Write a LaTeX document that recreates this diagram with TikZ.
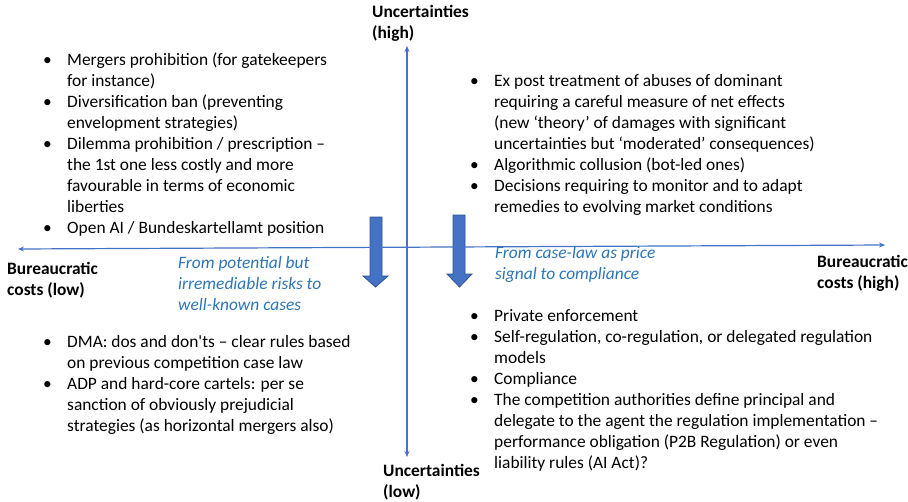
\documentclass[tikz,border=0pt]{standalone}
\usepackage{fontspec}
\setmainfont{Carlito}
\usepackage{xcolor}
\usetikzlibrary{positioning, arrows.meta}
\definecolor{axisblue}{HTML}{4472C4}
\definecolor{arrowedge}{HTML}{2F528F}
\definecolor{noteblue}{HTML}{2E75B6}
\newcommand{\bul}{\llap{\textbullet\hspace{15.5pt}}}

\begin{document}
\begin{tikzpicture}[x=1pt, y=-1pt,
        txt/.style={anchor=base west, inner sep=0pt, align=left, font=\fontsize{17.4}{21}\selectfont},
        head/.style={txt, font=\fontsize{17.4}{20.5}\selectfont\bfseries},
        note/.style={txt, text=noteblue, font=\fontsize{17.4}{21}\selectfont\itshape},
        axis/.style={draw=axisblue, line width=1.2pt, {Stealth[length=6pt,width=5pt]}-{Stealth[length=6pt,width=5pt]}},
        blockarrow/.style={fill=axisblue, draw=arrowedge, line width=0.8pt}]
            \useasboundingbox (0,0) rectangle (908,501);

            % the two block arrows
            \draw[blockarrow] (370,217) -- (382,217) -- (382,276) -- (388,276) -- (375.5,287) -- (363,276) -- (370,276) -- cycle;
            \draw[blockarrow] (453,215) -- (465,215) -- (465,274) -- (472,274) -- (459.5,287) -- (447,274) -- (453,274) -- cycle;

            % axes
            \coordinate (xl) at (18,249);
            \coordinate (xr) at (885,245);
            \coordinate (yt) at (407,46);
            \coordinate (yb) at (407,457);
            \draw[axis] (xl) -- (xr);
            \draw[axis] (yt) -- (yb);

            % axis labels (anchored on the last line)
            \node[head] (uhigh) at (372,38) {Uncertainties\\(high)};
            \node[head] (ulow) at (383,497) {Uncertainties\\(low)};
            \node[head] (blow) at (7,295) {Bureaucratic\\costs (low)};
            \node[head] (bhigh) at (817,288) {Bureaucratic\\costs (high)};

            % notes
            \node[note] (noteleft) at (178,310) {From potential but\\irremediable risks to\\well-known cases};
            \node[note] (noteright) at (495,279) {From case-law as price\\signal to compliance};

            % quadrants
            \node[txt] (topleft) at (67,233) {\bul Mergers prohibition (for gatekeepers\\for instance)\\
                \bul Diversification ban (preventing\\envelopment strategies)\\
                \bul Dilemma prohibition / prescription --\\the 1st one less costly and more\\favourable in terms of economic\\liberties\\
                \bul Open AI / Bundeskartellamt position};
            \node[txt] (topright) at (494,212) {\bul Ex post treatment of abuses of dominant\\requiring a careful measure of net effects\\(new ‘theory’ of damages with significant\\uncertainties but ‘moderated’ consequences)\\
                \bul Algorithmic collusion (bot-led ones)\\
                \bul Decisions requiring to monitor and to adapt\\remedies to evolving market conditions};
            \node[txt] (bottomleft) at (67,431) {\bul DMA: dos and don\textquotesingle ts -- clear rules based\\on previous competition case law\\
                \bul ADP and hard-core cartels: per se\\sanction of obviously prejudicial\\strategies (as horizontal mergers also)};
            \node[txt] (bottomright) at (494,468) {\bul Private enforcement\\
                \bul Self-regulation, co-regulation, or delegated regulation\\models\\
                \bul Compliance\\
                \bul The competition authorities define principal and\\delegate to the agent the regulation implementation --\\performance obligation (P2B Regulation) or even\\liability rules (AI Act)?};
        \end{tikzpicture}
\end{document}
